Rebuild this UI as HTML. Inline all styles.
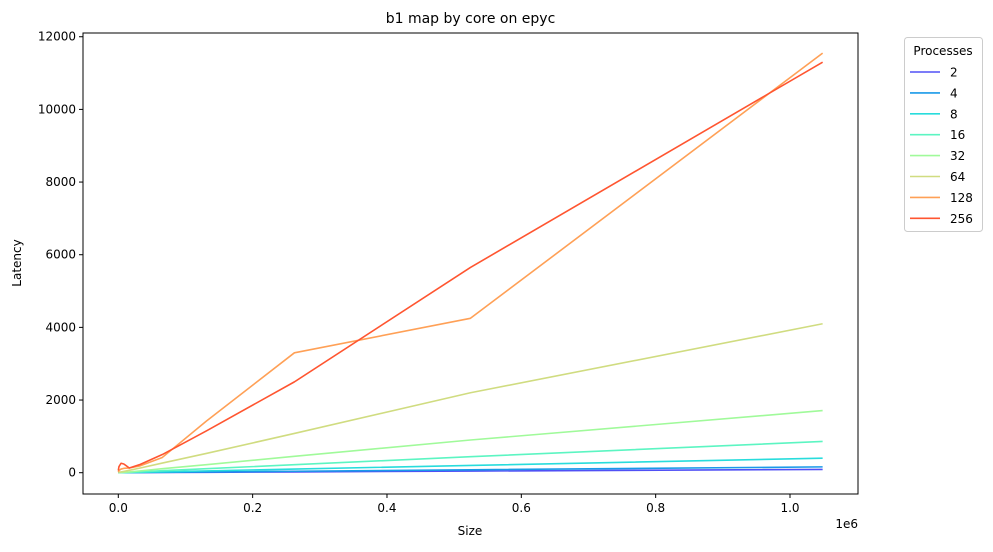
<!DOCTYPE html>
<html><head><meta charset="utf-8"><style>
body{margin:0;background:#fff;font-family:"Liberation Sans","DejaVu Sans",sans-serif;}
svg text{font-family:"DejaVu Sans","Liberation Sans",sans-serif;fill:#000}
</style></head><body>
<svg id="chart" width="993" height="547" xmlns="http://www.w3.org/2000/svg"></svg>
<script>
const sizes=[1,1024,4096,8192,16384,32768,65536,131072,262144,524288,1048576];
const processes=["2","4","8","16","32","64","128","256"];
const colors=["#5050f5","#1a9ae8","#28dcdc","#5cf5c2","#a0fa9a","#d0dc80","#ffa056","#ff5530"];
const s2=[1,2,2,3,3,4,6,11,22,45,90];
const s4=[1,2,3,3,4,6,10,20,40,80,160];
const s8=[2,3,4,5,7,12,25,50,100,200,400];
const s16=[3,4,5,7,12,25,55,110,220,440,860];
const s32=[5,6,8,12,20,50,110,220,450,900,1710];
const s64=[8,10,20,35,65,130,265,530,1080,2200,4100];
const s128=[20,60,100,120,130,190,420,1420,3300,4250,11550];
const s256=[60,170,260,240,130,230,500,1150,2500,5650,11300];
const series=[s2,s4,s8,s16,s32,s64,s128,s256];
const xTicks=[0,0.2e6,0.4e6,0.6e6,0.8e6,1.0e6];
const xTickLabels=["0.0","0.2","0.4","0.6","0.8","1.0"];
const yTicks=[0,2000,4000,6000,8000,10000,12000];
const yTickLabels=["0","2000","4000","6000","8000","10000","12000"];
const NS="http://www.w3.org/2000/svg";
const svg=document.getElementById('chart');
const L=83,R=858,T=33,B=494;
const X=v=>118.3+v*671.7/1e6;
const Y=v=>472.7-v*0.03633;
function mk(tag,attrs,parent){const e=document.createElementNS(NS,tag);for(const k in attrs)e.setAttribute(k,attrs[k]);(parent||svg).appendChild(e);return e;}
let t=mk('text',{x:(L+R)/2,y:23,'text-anchor':'middle','font-size':14});t.textContent="b1 map by core on epyc";


xTicks.forEach((v,i)=>{
 const l=mk('line',{x1:X(v),x2:X(v),y1:B,y2:B+4,stroke:'#000'});
 
 
 const tx=mk('text',{x:X(v),y:B+18,'text-anchor':'middle','font-size':12});tx.textContent=xTickLabels[i];
 
 
});
yTicks.forEach((v,i)=>{
 const l=mk('line',{x1:L-4,x2:L,y1:Y(v),y2:Y(v),stroke:'#000'});
 
 
 const tx=mk('text',{x:L-7,y:Y(v)+4,'text-anchor':'end','font-size':12});tx.textContent=yTickLabels[i];
 
 
});
t=mk('text',{x:858,y:528,'text-anchor':'end','font-size':12});t.textContent="1e6";


t=mk('text',{x:470,y:535,'text-anchor':'middle','font-size':12});t.textContent="Size";


t=mk('text',{x:21,y:263,'text-anchor':'middle','font-size':12,transform:'rotate(-90 21 263)'});t.textContent="Latency";


series.forEach((s,i)=>{
 const p=mk('polyline',{points:s.map((v,j)=>X(sizes[j])+','+Y(v)).join(' '),fill:'none',stroke:colors[i],'stroke-width':1.6,'stroke-linejoin':'round'});
 
 
});
const fr=mk('rect',{x:L,y:T,width:R-L,height:B-T,fill:'none',stroke:'#000','stroke-width':1});


const lg=mk('g',{});


mk('rect',{x:904.5,y:37.5,width:78,height:194,rx:3,fill:'#fff',stroke:'#ccc'},lg);
t=mk('text',{x:943,y:55,'text-anchor':'middle','font-size':12},lg);t.textContent="Processes";


processes.forEach((p,i)=>{
 const y=72+i*20.9;
 const g=mk('g',{},lg);
 
 
 mk('line',{x1:910,x2:940,y1:y,y2:y,stroke:colors[i],'stroke-width':1.6},g);
 const tx=mk('text',{x:950,y:y+4.5,'font-size':12},g);tx.textContent=p;
});
</script>
</body></html>
